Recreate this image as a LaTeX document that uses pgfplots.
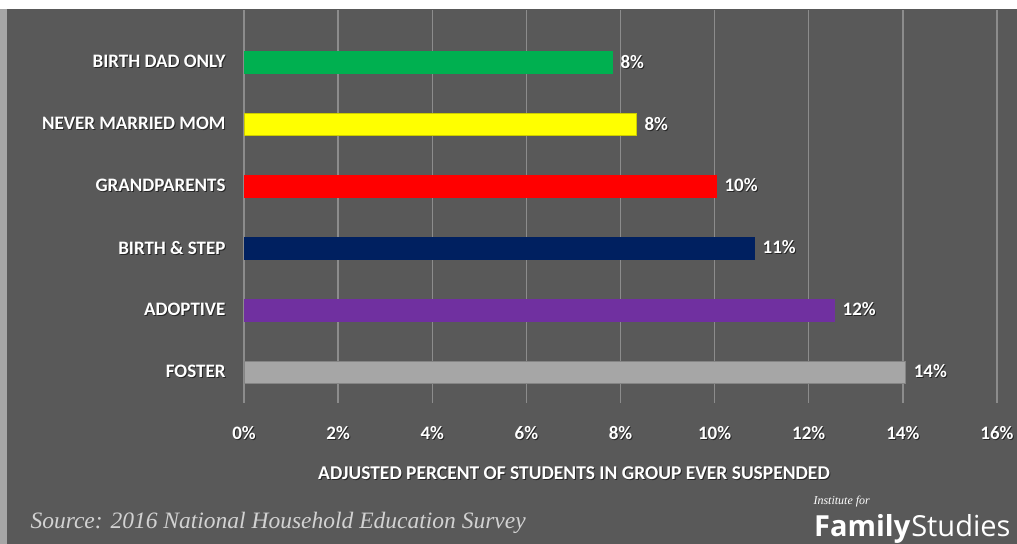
\documentclass[border=0pt]{standalone}
\usepackage{pgfplots}
\pgfplotsset{compat=1.18}
\usepackage{fontspec}
\setmainfont{Carlito}
\newfontfamily\srcfont{Liberation Serif}
\newfontfamily\logofont{Open Sans}
\definecolor{bg}{HTML}{595959}
\definecolor{gridc}{HTML}{8C8C8C}
\definecolor{cgreen}{HTML}{00B050}
\definecolor{cyellow}{HTML}{FFFF00}
\definecolor{cred}{HTML}{FF0000}
\definecolor{cnavy}{HTML}{002060}
\definecolor{cpurple}{HTML}{7030A0}
\definecolor{cgray}{HTML}{A6A6A6}
\definecolor{shad}{HTML}{262626}
\newcommand\sh[1]{\rlap{\raisebox{-1bp}{\hspace{1bp}\textcolor{shad}{#1}}}#1}
\begin{document}
\begin{tikzpicture}[x=1bp,y=1bp]
\fill[white] (0,0) rectangle (1017,544);
\useasboundingbox (0,0) rectangle (1017,544);
\fill[bg] (0,0) rectangle (1017,535);
\fill[gray!70] (0,0) rectangle (7,535);
\begin{axis}[
  at={(244bp,141bp)}, anchor=south west,
  width=753bp, height=393bp, scale only axis,
  xmin=0, xmax=16, ymin=-0.5, ymax=5.84,
  axis line style={draw=none},
  xtick={0,2,...,16},
  xticklabels={\sh{0\%},\sh{2\%},\sh{4\%},\sh{6\%},\sh{8\%},\sh{10\%},\sh{12\%},\sh{14\%},\sh{16\%}},
  ytick={0,...,5},
  yticklabels={\sh{FOSTER},\sh{ADOPTIVE},\sh{BIRTH \& STEP},\sh{GRANDPARENTS},\sh{NEVER MARRIED MOM},\sh{BIRTH DAD ONLY}},
  major tick length=0pt,
  xmajorgrids, grid style={draw=gridc, line width=1.3bp},
  tick label style={text=white, font=\fontsize{19bp}{22bp}\selectfont\bfseries},
  xticklabel style={yshift=-20bp},
  yticklabel style={xshift=-15bp},
  xbar, bar width=22bp, bar shift=0pt,
  point meta=explicit symbolic,
  nodes near coords={\sh{\pgfplotspointmeta}},
  nodes near coords style={text=white, font=\fontsize{19bp}{22bp}\selectfont\bfseries, anchor=west, xshift=5bp},
]
\addplot[fill=cgray, draw=cgray!80!black] coordinates {(14.05,0) [14\%]};
\addplot[fill=cpurple, draw=cpurple] coordinates {(12.54,1) [12\%]};
\addplot[fill=cnavy, draw=cnavy] coordinates {(10.84,2) [11\%]};
\addplot[fill=cred, draw=cred] coordinates {(10.03,3) [10\%]};
\addplot[fill=cyellow, draw=cyellow!80!black] coordinates {(8.33,4) [8\%]};
\addplot[fill=cgreen, draw=cgreen] coordinates {(7.82,5) [8\%]};
\end{axis}
\node[text=white, font=\fontsize{19.5bp}{22bp}\selectfont\bfseries] at (574,70) {\sh{ADJUSTED PERCENT OF STUDENTS IN GROUP EVER SUSPENDED}};
\node[text=gray!35, font=\srcfont\itshape\fontsize{23.5bp}{26bp}\selectfont, anchor=west] at (27,21) {Source: 2016 National Household Education Survey};
\node[text=white, font=\srcfont\itshape\fontsize{12bp}{14bp}\selectfont, anchor=west] at (810,42) {Institute for};
\node[text=white, anchor=base west, inner sep=0] at (814,7) {\fontsize{29bp}{32bp}\selectfont{\logofont\bfseries Family}\kern1bp{\logofont Studies}};
\end{tikzpicture}
\end{document}
